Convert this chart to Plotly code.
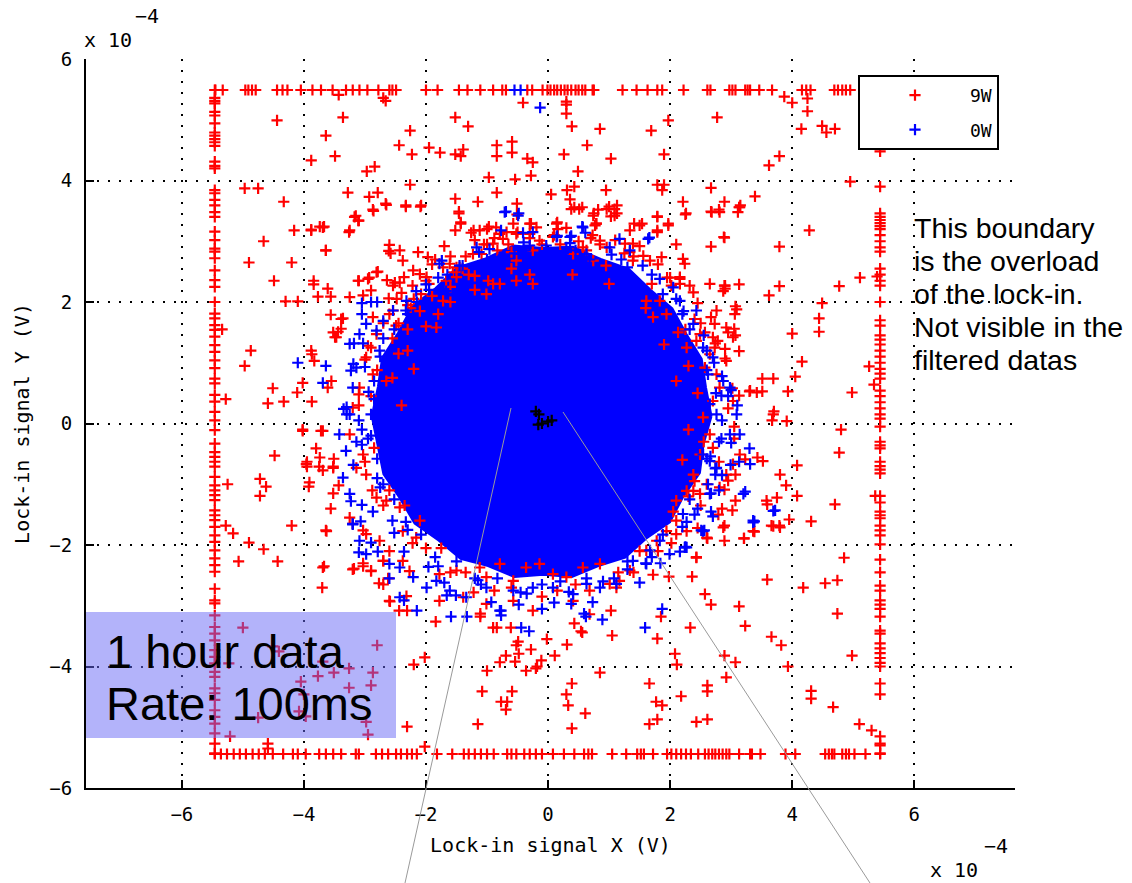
import plotly.graph_objects as go

# ---------------- data (units of 1e-4 V) ----------------
EDGE_TOP = 5.49
EDGE_BOTTOM = -5.44
EDGE_LEFT = -5.46
EDGE_RIGHT = 5.44

# 9W points sitting on the lock-in overload boundary
red_top_x = [-5.45, -5.33, -4.96, -4.91, -4.85, -4.79, -4.44, -4.35, -4.27, -4.05, -3.86, -3.72,
             -3.53, -3.31, -3.20, -3.09, -2.96, -2.78, -2.60, -2.55, -2.49, -2.00, -1.81, -1.46,
             -1.32, -1.11, -0.90, -0.75, -0.69, -0.34, -0.26, -0.09, -0.01, 0.04, 0.10, 0.15,
             0.21, 0.27, 0.32, 0.38, 0.45, 0.50, 0.56, 0.61, 0.73, 0.75, 1.22, 1.45, 1.63, 1.79,
             1.87, 2.22, 2.61, 2.66, 2.97, 3.02, 3.07, 3.23, 3.27, 3.31, 3.46, 3.67, 4.16, 4.23,
             4.30, 4.69, 4.75, 4.82, 4.88, 4.95]
red_bottom_x = [-5.46, -5.36, -5.26, -5.15, -5.05, -4.95, -4.84, -4.74, -4.64, -4.51, -4.34, -4.18,
                -4.10, -3.97, -3.75, -3.64, -3.52, -3.39, -3.15, -3.10, -2.82, -2.72, -2.62, -2.49,
                -2.41, -2.31, -2.23, -2.15, -1.82, -1.57, -1.38, -1.30, -1.20, -1.10, -1.00, -0.89,
                -0.67, -0.60, -0.52, -0.39, -0.30, -0.20, -0.10, 0.08, 0.26, 0.43, 0.59, 0.66, 0.72,
                1.05, 1.28, 1.46, 1.52, 1.57, 1.72, 1.95, 2.02, 2.10, 2.18, 2.26, 2.34, 2.46, 2.57,
                2.63, 2.69, 2.74, 2.80, 2.86, 2.92, 2.97, 3.13, 3.31, 3.34, 3.48, 3.89, 4.05, 4.54,
                4.60, 4.65, 4.69, 4.82, 4.88, 4.93, 5.02, 5.20, 5.44]
red_left_y = [5.49, 5.36, 5.31, 5.27, 5.13, 5.07, 4.94, 4.79, 4.74, 4.68, 4.63, 4.57, 4.31, 4.24,
              4.20, 3.84, 3.79, 3.68, 3.59, 3.48, 3.40, 3.16, 3.02, 2.88, 2.83, 2.72, 2.52, 2.36,
              2.25, 2.00, 1.81, 1.73, 1.62, 1.54, 1.43, 1.29, 1.18, 1.04, 0.91, 0.74, 0.66, 0.47,
              0.36, 0.19, 0.05, -0.11, -0.33, -0.47, -0.55, -0.63, -0.71, -0.88, -1.02, -1.10,
              -1.18, -1.26, -1.43, -1.51, -1.59, -1.70, -1.84, -1.95, -2.09, -2.22, -2.33, -2.44,
              -2.72, -2.91, -2.96, -3.16, -3.35, -3.46, -3.57, -3.73, -3.84, -3.95, -4.09, -4.17,
              -4.36, -4.44, -4.55, -4.72, -4.83, -4.94, -5.10, -5.27, -5.43]
red_right_y = [4.48, 3.90, 3.46, 3.40, 3.35, 3.30, 3.25, 3.20, 3.10, 3.00, 2.90, 2.83, 2.55, 2.45,
               2.35, 2.27, 2.00, 1.70, 1.61, 1.45, 1.38, 1.30, 1.20, 1.10, 1.00, 0.90, 0.82, 0.74,
               0.54, 0.45, 0.35, 0.25, 0.15, 0.08, -0.05, -0.30, -0.36, -0.41, -0.63, -0.70, -0.76,
               -0.82, -1.19, -1.30, -1.45, -1.51, -1.56, -1.68, -1.76, -1.84, -1.99, -2.24, -2.45,
               -2.67, -2.75, -2.91, -2.98, -3.05, -3.18, -3.41, -3.46, -3.62, -3.70, -3.78, -3.86,
               -3.94, -4.00, -4.28, -4.46, -5.15, -5.27, -5.30, -5.43]

# 9W scattered outliers (x, y)
red_outliers = [
    (-4.44, 4.99), (-3.36, 5.04), (-3.64, 4.74), (-3.49, 4.40), (-3.88, 4.33), (-2.97, 4.15),
    (-2.84, 4.23), (-4.97, 3.87), (-4.75, 3.87), (-4.33, 3.65), (-3.28, 3.80), (-2.93, 3.73),
    (-2.79, 3.80), (-2.66, 3.62), (-2.87, 3.52), (-3.15, 3.42), (-3.10, 3.34), (-3.88, 3.19),
    (-3.74, 3.24), (-3.67, 3.24), (-4.16, 3.18), (-3.25, 3.18), (-4.66, 3.00), (-3.64, 2.85),
    (-2.60, 2.94), (-2.58, 2.80), (-4.90, 2.65), (-4.20, 2.65), (-4.49, 2.35), (-3.84, 2.35),
    (-3.84, 2.29), (-3.10, 2.35), (-2.93, 2.40), (-2.79, 2.50), (-3.61, 2.22), (-2.90, 2.19),
    (-3.77, 2.09), (-3.56, 2.09), (-4.30, 2.01), (-4.10, 2.01), (-3.03, 2.11), (-2.61, 2.06),
    (-5.34, 1.55), (-4.87, 1.20), (-4.97, 0.95), (-4.51, 0.58), (-5.28, 0.40), (-4.59, 0.33),
    (-4.33, 0.36), (-4.11, 0.51), (-3.87, 1.14), (-4.02, 0.67), (-3.87, 0.36), (-3.56, 1.79),
    (-3.36, 1.73), (-3.39, 1.56), (-3.44, 1.51), (-3.49, 1.42), (-2.70, 5.36), (-2.66, 5.31),
    (-3.43, 5.41),
    (-0.41, 5.28), (0.30, 5.30), (0.30, 5.25), (0.30, 5.10), (-1.52, 5.04), (-1.31, 4.89),
    (-2.26, 4.82), (0.39, 4.89), (0.85, 4.85), (1.69, 4.82), (1.97, 4.99), (-2.44, 4.58),
    (-2.23, 4.43), (-1.95, 4.54), (-1.77, 4.46), (-1.52, 4.43), (-1.43, 4.40), (-1.39, 4.51),
    (-0.84, 4.58), (-0.84, 4.40), (-0.59, 4.64), (-0.59, 4.46), (-0.34, 4.36), (-0.25, 4.30),
    (-0.28, 4.08), (0.64, 4.58), (0.26, 4.43), (1.03, 4.36), (1.90, 4.43), (0.49, 4.15),
    (-0.97, 4.05), (-0.54, 4.02), (-2.26, 3.93), (-0.84, 3.80), (0.05, 3.77), (0.31, 3.84),
    (0.43, 3.90), (0.36, 3.69), (0.95, 3.84), (1.79, 3.93), (1.87, 3.84), (1.90, 3.93),
    (-1.52, 3.70), (-1.15, 3.65), (-0.51, 3.62), (-2.33, 3.59), (-2.08, 3.59), (-1.46, 3.49),
    (-1.43, 3.31), (0.43, 3.56), (0.56, 3.56), (0.75, 3.46), (0.82, 3.52), (1.00, 3.57),
    (1.13, 3.59), (1.13, 3.46), (1.03, 3.41), (1.79, 3.41), (2.21, 3.65), (2.26, 3.46),
    (-0.51, 3.44), (-0.28, 3.29), (0.15, 3.31), (0.79, 3.29), (1.41, 3.29), (1.54, 3.29),
    (1.97, 3.29), (-1.52, 3.18), (-1.26, 3.14), (-0.97, 3.24), (1.34, 3.18), (1.79, 3.18),
    (3.87, 5.38), (4.00, 5.28), (4.25, 5.35), (4.25, 5.14), (2.77, 5.04), (4.15, 4.85),
    (4.49, 4.90), (4.56, 4.79), (4.70, 4.85), (3.79, 4.40), (3.62, 4.25), (4.95, 3.98),
    (2.67, 3.88), (2.89, 3.65), (2.67, 3.49), (2.80, 3.52), (3.13, 3.56), (3.15, 3.59),
    (3.39, 3.74), (4.28, 3.18), (2.89, 3.06), (2.67, 2.91), (3.79, 2.91), (5.11, 2.40),
    (4.77, 2.26), (5.39, 2.42), (2.89, 2.27), (2.90, 2.22), (3.13, 2.29), (3.79, 2.26),
    (3.62, 2.11), (4.49, 1.98), (4.44, 1.73), (4.44, 1.51), (4.00, 1.48), (4.16, 1.02),
    (4.05, 0.77), (5.26, 0.94), (5.34, 0.64), (4.98, 0.51), (3.93, 0.53), (3.51, 0.74),
    (3.69, 0.74), (3.30, 0.53), (3.51, 0.53), (3.13, 1.19), (3.07, 1.45), (3.05, 1.56),
    (3.07, 1.93), (2.74, 1.32), (2.90, 1.23), (2.90, 1.07), (3.70, 0.20), (3.67, 0.05),
    (3.13, 0.46),
    (-4.48, -0.53), (-5.25, -1.00), (-4.72, -0.91), (-4.62, -1.04), (-4.72, -1.19),
    (-5.28, -1.68), (-5.16, -1.81), (-4.90, -1.96), (-4.66, -2.07), (-5.07, -2.27),
    (-4.43, -2.27), (-4.20, -1.68), (-5.00, -3.36), (-4.51, -3.67), (-4.41, -3.75),
    (-5.23, -3.95), (-5.21, -5.15), (-4.59, -5.27), (-4.59, -5.35), (-4.02, -0.10),
    (-3.69, -0.12), (-3.80, -0.41), (-3.95, -0.63), (-3.95, -0.71), (-3.75, -0.71),
    (-3.69, -0.77), (-3.52, -0.71), (-3.51, -0.58), (-3.92, -1.04), (-3.52, -1.15),
    (-3.56, -1.40), (-3.43, -1.02), (-3.64, -1.76), (-3.67, -2.35), (-3.70, -2.70),
    (-3.18, -2.39), (-3.03, -2.30), (-2.90, -2.42), (-2.70, -2.26), (-2.62, -2.55),
    (-2.77, -2.63), (-2.59, -2.93), (-3.20, -1.65), (-3.03, -1.76), (-2.80, -3.65),
    (-2.87, -4.10), (-2.90, -4.31), (-2.98, -4.91), (-2.95, -5.12), (-3.26, -4.03),
    (-3.26, -4.35), (-3.51, -4.10), (-3.77, -4.16), (-3.69, -3.92), (-4.05, -4.25),
    (-4.00, -4.46), (-3.97, -4.82), (-4.08, -4.74), (-4.75, -4.84),
    (-2.02, -3.85), (-2.20, -3.97), (-2.31, -3.08), (-2.44, -3.08), (-1.84, -3.26),
    (-1.00, -4.07), (-1.08, -4.41), (-0.77, -4.58), (-0.67, -4.58), (-0.69, -4.71),
    (-0.59, -4.41), (-1.15, -4.95), (-2.31, -4.99), (-2.02, -5.32), (0.39, -4.28),
    (0.30, -4.46), (0.33, -4.64), (0.61, -4.77), (0.39, -5.02), (0.85, -4.10), (1.66, -4.28),
    (1.77, -4.58), (1.87, -4.64), (1.66, -4.95), (1.79, -4.87), (2.18, -4.49), (2.43, -4.91),
    (2.08, -3.79), (2.11, -3.97), (1.79, -3.54), (2.33, -3.36), (1.05, -3.49), (0.31, -3.64),
    (0.11, -3.82), (-0.02, -3.55), (-0.11, -3.90), (-0.20, -4.03), (-0.18, -4.00),
    (-0.36, -4.07), (-0.54, -3.92), (-0.79, -3.93), (-0.69, -3.82), (-0.48, -3.79),
    (-0.28, -3.72), (-0.49, -3.59), (-0.52, -3.65), (-0.90, -3.36), (-0.84, -3.36),
    (-0.61, -3.36), (0.43, -3.29), (0.54, -3.42), (0.56, -3.44), (1.03, -3.08), (1.85, -3.18),
    (2.43, -2.21), (2.36, -2.52), (1.98, -2.52), (1.72, -2.49), (-1.11, -3.13), (-1.11, -3.18),
    (4.80, -0.10), (4.77, -0.48), (4.08, -0.69), (3.90, -1.02), (4.08, -1.19), (3.75, -1.22),
    (3.59, -1.33), (3.95, -1.58), (4.31, -1.61), (3.66, -1.68), (3.79, -1.68), (4.70, -1.33),
    (5.36, -1.19), (3.38, -1.78), (3.21, -1.89), (2.89, -1.93), (4.85, -2.21), (3.59, -2.57),
    (4.18, -2.70), (4.54, -2.63), (4.74, -2.58), (4.74, -3.13), (2.57, -2.81), (2.67, -2.98),
    (3.13, -3.01), (3.23, -3.33), (3.66, -3.51), (3.82, -3.65), (2.89, -3.82), (3.07, -3.93),
    (3.93, -4.00), (4.98, -3.82), (2.92, -4.18), (2.61, -4.31), (2.61, -4.41), (2.61, -4.87),
    (4.31, -4.40), (4.31, -4.53), (4.67, -4.67), (5.10, -4.95), (5.30, -5.05),
]

# 9W points in the fuzzy rim of the central cloud (x, y)
red_fringe = [
    (-3.17, 3.40), (-3.11, 3.34), (-2.86, 3.50), (-2.65, 3.60), (-2.33, 3.57), (-2.09, 3.57),
    (-1.46, 3.46), (-1.43, 3.29), (-1.22, 3.18), (-1.12, 3.18), (-1.00, 3.20), (-0.85, 3.23),
    (-0.79, 3.12), (-0.68, 3.15), (-0.57, 3.29), (-0.52, 3.12), (-0.30, 3.29), (-0.30, 3.12),
    (-0.19, 3.23), (0.14, 3.29), (0.16, 3.20), (0.38, 3.53), (0.51, 3.53), (0.74, 3.42),
    (0.77, 3.26), (0.79, 3.29), (0.96, 3.53), (1.09, 3.53), (1.09, 3.42), (1.50, 3.26),
    (1.79, 3.40), (1.97, 3.26), (1.79, 3.15), (2.25, 3.44), (2.68, 3.48), (2.81, 3.48),
    (2.88, 3.07), (3.14, 3.56), (3.11, 3.48), (2.10, 2.95), (1.86, 2.74), (1.67, 2.68),
    (1.56, 2.76), (1.39, 2.96), (1.34, 2.82), (2.21, 2.71), (2.24, 2.63), (2.16, 2.38),
    (2.16, 2.30), (2.38, 2.16), (2.32, 2.27), (2.65, 2.30), (2.90, 2.27), (2.87, 2.18),
    (3.09, 1.88), (3.06, 1.80), (2.76, 1.86), (2.73, 1.64), (2.92, 1.58), (2.95, 1.50),
    (3.03, 1.42), (2.70, 1.42), (2.73, 1.25), (2.65, 1.14), (2.92, 1.03), (2.76, 0.81),
    (2.57, 0.92), (2.49, 1.47), (2.57, 1.50), (2.43, 1.36), (2.27, 1.25), (2.13, 1.50),
    (1.94, 1.80), (1.83, 2.02), (1.61, 2.02), (1.72, 1.75),
    (-3.64, 2.85), (-3.88, 3.18), (-3.69, 3.23), (-3.26, 3.15), (-2.61, 2.84), (-2.43, 2.85),
    (-2.38, 2.68), (-2.13, 2.82), (-1.97, 2.74), (-2.81, 2.49), (-2.95, 2.38), (-3.11, 2.35),
    (-3.25, 2.08), (-3.39, 1.72), (-3.52, 1.50), (-3.47, 1.42), (-2.64, 2.36), (-2.51, 2.32),
    (-2.54, 2.27), (-2.43, 2.32), (-2.21, 2.52), (-2.10, 2.46), (-1.99, 2.41), (-1.72, 2.57),
    (-1.61, 2.63), (-1.56, 2.49), (-1.45, 2.57), (-1.23, 2.79), (-1.09, 2.79), (-0.90, 2.96),
    (-0.74, 3.04), (-0.60, 2.82), (-0.52, 2.68), (-0.25, 2.85), (-0.14, 3.01), (0.08, 3.07),
    (0.41, 2.79), (0.57, 2.90), (0.74, 2.68), (0.85, 3.01), (0.96, 2.90), (1.26, 2.96),
    (1.39, 2.68), (-1.67, 2.35), (-1.50, 2.41), (-1.20, 2.43), (-0.98, 2.35), (-0.79, 2.30),
    (-0.52, 2.35), (-0.25, 2.30), (-1.01, 2.13), (-1.80, 1.80), (-1.83, 1.58), (-1.72, 2.02),
    (-2.54, 1.86), (-2.49, 1.61), (-2.81, 1.47), (-2.98, 1.09), (-2.87, 0.81), (-2.65, 0.70),
    (-3.09, 0.59), (-3.20, 0.26), (-3.25, -0.18), (-3.03, -0.51), (-3.14, -0.73),
    (-2.98, -0.84), (-2.81, -1.22), (-2.65, -1.27), (-2.43, -1.38), (-3.25, -1.55),
    (-2.98, -1.82), (-2.76, -1.93), (-2.38, -1.77), (-2.16, -1.88), (-2.10, -1.60),
    (-3.88, 1.20), (-3.83, 1.03), (-3.55, 0.70), (-3.61, 0.59), (-3.72, -0.12), (-3.74, -0.56),
    (-3.96, -0.67), (-3.52, -0.73), (-3.91, -0.97), (-4.02, -0.12), (-3.63, -1.77),
    (-3.69, -2.37), (-3.20, -2.40), (-3.03, -2.35), (-2.90, -2.43), (-2.70, -2.26),
    (-2.60, -2.10), (-2.38, -2.26), (-2.27, -2.43), (-2.70, -2.65), (-2.60, -2.92),
    (-2.32, -2.84), (-1.78, -2.48), (-1.50, -2.42), (-1.12, -2.37), (-1.01, -2.53),
    (-0.79, -2.31), (-0.57, -2.59), (-0.36, -2.37), (-0.14, -2.31), (0.08, -2.48),
    (0.30, -2.53), (0.57, -2.37), (0.85, -2.31), (1.01, -2.64), (1.17, -2.59), (1.34, -2.42),
    (1.61, -2.09), (1.78, -1.93), (1.94, -1.77), (2.10, -1.82), (2.27, -1.77), (-1.78, -2.92),
    (-1.39, -2.86), (-1.01, -2.97), (-0.57, -2.92), (-0.25, -3.08), (0.41, -2.92),
    (0.68, -3.14), (2.10, -1.27), (2.27, -1.11), (2.38, -0.84), (2.49, -0.51), (2.65, -0.18),
    (2.54, 0.10), (2.70, 0.37), (2.81, 0.59), (3.03, 0.37), (3.31, 0.54), (3.42, 0.51),
    (3.69, 0.15), (3.91, 0.04), (3.52, -0.62), (3.80, -0.84), (3.58, -1.27), (3.69, -1.69),
    (3.80, -1.71), (3.36, -1.77), (2.87, -1.71), (2.60, -1.88), (2.43, -2.20), (2.38, -1.11),
    (2.10, -1.60), (2.49, -1.16), (2.81, -1.05), (2.92, -0.84), (3.03, -0.67), (3.14, -0.51),
    (3.43, -0.56), (3.23, -0.59), (3.07, -0.84), (2.95, -0.94), (2.89, -1.09), (3.07, -1.27),
    (3.02, -1.43), (2.85, -1.40), (2.79, -1.50), (2.89, -1.68), (2.61, -1.89), (3.21, -1.89),
    (-1.90, 2.10), (-1.60, 2.25), (-1.30, 2.45), (-2.10, 1.85), (-2.30, 1.55), (-2.45, 1.15),
    (-2.55, 0.75), (-2.20, 2.05), (-1.40, 2.55), (-0.60, 2.55), (2.30, 0.95), (2.45, 0.50),
    (2.55, -0.30), (2.40, -0.95), (2.05, -1.45), (1.50, -2.10), (-1.75, -2.05), (-2.35, -1.35),
    (2.95, 0.25), (3.05, -0.05), (2.50, 1.65), (2.67, 1.75), (2.40, 1.72), (2.02, 2.27),
    (1.95, 2.40), (2.16, 2.41), (1.40, 2.75), (1.50, 2.92), (1.25, 2.80), (0.63, 2.85),
    (0.73, 3.10), (0.50, 3.00), (0.85, 2.95), (-0.10, 2.95), (0.10, 3.10), (-0.30, 3.05),
    (0.20, 2.95), (-0.83, 2.85), (-0.88, 3.05), (-1.05, 2.95), (-0.65, 2.95), (-1.50, 2.57),
    (-1.60, 2.75), (-1.70, 2.92), (-1.35, 2.75), (-1.85, 2.70), (-2.08, 2.13), (-2.22, 2.27),
    (-2.36, 2.41), (-2.00, 2.35), (-2.40, 2.15), (-2.70, 1.65), (-2.87, 1.75), (-2.60, 1.80),
    (-2.45, 1.65), (-2.80, 0.88), (-3.00, 1.05), (-2.90, 1.25), (-3.10, 0.30), (-2.90, 0.45),
    (-3.00, -0.63), (-2.85, -0.40), (-2.70, -1.35), (-2.60, -1.10), (-2.22, -1.97),
    (-2.00, -2.05), (-1.60, -2.45), (-1.35, -2.45), (-0.88, -2.75), (-0.60, -2.70),
    (-0.10, -2.85), (0.15, -2.75), (0.68, -2.75), (0.45, -2.65), (1.40, -2.45), (1.15, -2.45),
    (2.02, -1.97), (1.80, -2.10), (2.50, -1.35), (2.60, -1.00), (2.80, -0.63), (2.70, -0.40),
    (3.02, 0.58), (2.78, 1.36), (2.45, 1.98), (1.80, 2.62), (1.10, 3.02), (0.30, 3.22),
    (-0.50, 3.15), (-1.20, 3.02), (-1.90, 2.62), (-2.48, 2.05), (-2.95, 1.28), (-3.10, 0.48),
    (-2.88, -1.10), (-1.22, -2.78), (1.12, -2.70), (2.45, -1.72), (3.05, -0.25), (-2.30, 1.95),
    (-1.00, 2.95), (0.70, 3.05), (2.00, 2.40),
    (-1.20, 2.20), (-0.90, 2.30), (-1.60, 2.00), (-2.00, 1.60), (-2.30, 1.20), (-0.30, 2.45),
    (0.40, 2.45), (-2.20, 0.90), (-2.40, 0.30), (2.30, -0.10), (2.20, -0.60), (2.10, 0.70),
    (1.90, 1.30), (1.60, 1.90), (1.00, 2.30), (2.30, -1.20), (-1.95, 2.30), (-2.25, 1.90),
    (-2.55, 1.40), (0.95, 2.60), (1.70, 2.30), (2.25, 1.55),
]

# 0W points outside the solid core (x, y)
blue_edge_x = [-0.55, -0.45]
blue_points = [
    (-0.13, 5.20), (-4.10, 1.00), (-3.64, 0.95), (-3.69, 0.67), (-3.05, 1.98), (-2.90, 2.00),
    (-2.80, 2.00), (-3.05, 1.80), (-3.18, 1.32), (-3.03, 1.32), (-3.23, 0.87), (-3.30, 0.27),
    (-3.35, 0.24), (-0.69, 3.49), (-0.48, 3.46), (0.56, 3.24), (0.61, 3.14), (1.66, 3.06),
    (-0.77, 3.18), (-0.41, 3.14), (0.15, 3.09), (0.38, 3.09), (-1.74, 2.68), (-3.10, -2.12),
    (-2.90, -1.96), (-2.79, -2.11), (-2.60, -2.55), (-3.20, -1.65), (-3.07, -1.61),
    (-3.23, -1.28), (-3.05, -1.34), (-1.59, -3.18), (-1.33, -3.18), (-0.77, -3.08),
    (-0.77, -3.16), (-0.44, -3.36), (-0.31, -3.42), (0.59, -3.13), (0.62, -3.18), (0.89, -3.23),
    (1.59, -3.36), (1.87, -3.05), (2.25, -2.03), (2.51, -1.76), (-2.43, -2.86), (-2.36, -2.91),
    (-2.15, -3.08), (-1.66, -2.83), (-1.51, -2.83), (3.30, -0.41), (3.31, -0.67), (3.13, -0.63),
    (2.74, -0.74), (2.74, -0.84), (2.67, -1.15), (3.23, -1.12), (3.72, -1.43), (3.38, -1.61),
    (2.70, -1.53), (2.56, -1.76), (2.66, -0.54), (3.36, -1.63), (2.24, -2.04),
    (-0.71, 3.48), (-0.49, 3.42), (0.57, 3.23), (0.36, 3.07), (0.14, 3.07), (-0.25, 3.15),
    (-1.17, 2.90), (-0.96, 2.87), (-0.74, 2.76), (-0.30, 2.93), (-0.03, 2.93), (0.30, 2.90),
    (0.63, 2.79), (1.01, 2.90), (1.17, 3.04), (1.34, 2.85), (1.64, 3.04), (-1.78, 2.63),
    (-1.45, 2.60), (-1.67, 2.18), (-2.00, 2.29), (-2.16, 2.18), (-2.32, 2.02), (-2.54, 1.86),
    (-2.70, 1.69), (-2.81, 1.53), (1.83, 2.38), (2.05, 2.24), (2.16, 2.02), (2.43, 1.86),
    (2.38, 1.64), (2.54, 1.25), (2.70, 1.09), (2.62, 0.81), (2.87, 0.70), (2.98, 0.59),
    (3.09, 0.15), (2.98, -0.18), (3.14, -0.18), (2.76, 0.15), (2.65, 0.32), (2.54, -0.51),
    (2.65, -0.62), (2.76, -0.73), (3.20, -1.16), (3.36, -1.60), (3.69, -1.44), (2.65, -1.16),
    (2.54, -1.77), (2.27, -2.04), (1.99, -2.15), (1.83, -1.93), (1.67, -2.09), (1.61, -2.31),
    (1.39, -2.26), (2.21, -1.49), (0.63, -2.64), (0.85, -2.70), (1.12, -2.64), (0.41, -2.81),
    (0.08, -2.70), (-0.25, -2.70), (-0.57, -2.75), (-0.79, -3.08), (-1.01, -2.70),
    (-1.34, -2.86), (-1.61, -2.75), (-1.83, -2.59), (-1.99, -2.70), (-2.21, -2.53),
    (-2.43, -2.37), (-2.60, -2.31), (-2.98, -2.15), (-3.09, -1.93), (-3.20, -1.66),
    (-3.25, -1.16), (-3.36, -0.89), (-3.31, -0.45), (-3.42, -0.18), (-3.25, 0.15),
    (-3.20, 0.59), (-3.14, 0.92), (-3.25, 1.31), (-3.09, 1.47), (-2.98, 1.64),
    (-2.85, 0.40), (-2.90, -0.20), (-2.80, -0.90), (-2.55, -1.60), (-1.20, -2.55),
    (0.20, -2.60), (1.30, -2.40), (2.45, -1.40), (2.80, -0.30), (2.75, 0.50), (2.20, 1.80),
    (1.20, 2.70), (0.10, 2.80), (-1.00, 2.70), (-2.30, 1.80), (-2.75, 1.10),
    (2.85, 0.05), (2.95, 0.45), (3.10, 0.30), (2.60, 0.88), (2.72, 1.00), (2.85, 0.78),
    (2.32, 1.55), (2.55, 1.45), (1.88, 2.13), (2.10, 2.05), (1.30, 2.57), (1.55, 2.60),
    (0.68, 2.70), (0.45, 2.85), (-0.05, 2.80), (0.25, 2.80), (-0.40, 2.85), (-0.80, 2.70),
    (-0.55, 2.80), (-1.40, 2.60), (-1.65, 2.45), (-2.15, 2.00), (-1.95, 2.20), (-2.52, 1.55),
    (-2.70, 1.40), (-3.00, 0.93), (-3.19, 0.98), (-2.85, 0.70), (-2.90, 0.15), (-3.10, 0.05),
    (-3.30, 0.15), (-3.05, -0.10), (-2.80, -0.58), (-3.19, -0.68), (-3.05, -0.35),
    (-2.52, -1.25), (-2.87, -1.45), (-2.75, -1.05), (-2.08, -1.83), (-2.36, -2.11),
    (-2.30, -1.75), (-1.50, -2.27), (-1.70, -2.62), (-1.80, -2.35), (-0.83, -2.55),
    (-0.93, -2.94), (-1.10, -2.65), (-0.10, -2.65), (-0.10, -3.05), (-0.35, -2.80),
    (0.10, -2.95), (0.63, -2.55), (0.73, -2.94), (0.90, -2.60), (1.30, -2.27), (1.50, -2.62),
    (1.60, -2.30), (1.88, -1.83), (2.16, -2.11), (2.20, -1.70), (2.32, -1.25), (2.67, -1.45),
    (2.40, -1.50), (2.60, -0.58), (2.99, -0.68), (2.85, -0.85),
    (2.84, 0.46), (2.60, 1.20), (2.22, 1.85), (1.70, 2.45), (1.04, 2.78), (0.36, 2.97),
    (-0.40, 2.98), (-1.13, 2.82), (-1.80, 2.40), (-2.33, 1.86), (-2.76, 1.20), (-2.94, 0.52),
    (-2.95, -0.25), (-3.14, -0.30), (-2.70, -1.00), (-2.52, -1.80), (-2.33, -1.62),
    (-1.85, -2.20), (-1.96, -2.36), (-1.15, -2.58), (-0.45, -2.78), (-0.48, -2.98),
    (0.34, -2.77), (0.38, -2.97), (1.08, -2.55), (1.84, -2.30), (1.70, -2.20), (2.27, -1.62),
    (2.62, -1.00), (2.80, -1.10), (2.84, -0.25), (3.00, -0.32), (3.00, 0.55),
]

# outline of the saturated core of the cloud (x, y)
core_outline = [
    (2.67, 0.12), (2.58, 0.59), (2.51, 1.06), (2.26, 1.47), (2.03, 1.89), (1.67, 2.20),
    (1.32, 2.54), (0.86, 2.70), (0.41, 2.90), (-0.08, 2.88), (-0.57, 2.92), (-1.02, 2.71),
    (-1.49, 2.56), (-1.84, 2.22), (-2.22, 1.92), (-2.45, 1.49), (-2.71, 1.08), (-2.78, 0.60),
    (-2.88, 0.12), (-2.78, -0.36), (-2.69, -0.83), (-2.42, -1.23), (-2.18, -1.64),
    (-1.79, -1.92), (-1.43, -2.22), (-0.98, -2.34), (-0.55, -2.52), (-0.08, -2.48),
    (0.39, -2.52), (0.82, -2.34), (1.26, -2.20), (1.60, -1.89), (1.99, -1.62), (2.21, -1.20),
    (2.48, -0.81), (2.54, -0.34),
]

# black points at the centre
center_pts = [(-0.20, 0.20), (-0.15, 0.15), (0.00, 0.03), (0.06, 0.05), (-0.16, -0.02),
              (-0.10, 0.00)]

series_names = ["9W", "0W"]
x_ticks = [-6, -4, -2, 0, 2, 4, 6]
y_ticks = [-6, -4, -2, 0, 2, 4, 6]

# ---------------- build traces ----------------
red_x = (red_top_x + red_bottom_x + [EDGE_LEFT] * len(red_left_y) + [EDGE_RIGHT] * len(red_right_y)
         + [p[0] for p in red_outliers] + [p[0] for p in red_fringe])
red_y = ([EDGE_TOP] * len(red_top_x) + [EDGE_BOTTOM] * len(red_bottom_x) + red_left_y + red_right_y
         + [p[1] for p in red_outliers] + [p[1] for p in red_fringe])
blue_x = blue_edge_x + [p[0] for p in blue_points]
blue_y = [EDGE_TOP] * len(blue_edge_x) + [p[1] for p in blue_points]

RED = "#ff0000"
BLUE = "#0000ff"
MONO = "DejaVu Sans Mono"


def plus(color):
    return dict(symbol="cross-thin", size=8, color=color, line=dict(width=2.2, color=color))


fig = go.Figure()
fig.add_trace(go.Scatter(
    x=[p[0] for p in core_outline] + [core_outline[0][0]],
    y=[p[1] for p in core_outline] + [core_outline[0][1]],
    mode="lines", fill="toself", fillcolor=BLUE, line=dict(color=BLUE, width=3),
    showlegend=False, hoverinfo="skip"))
fig.add_trace(go.Scatter(x=red_x, y=red_y, mode="markers", name=series_names[0],
                         legendgroup="a", marker=plus(RED)))
fig.add_trace(go.Scatter(x=blue_x, y=blue_y, mode="markers", name=series_names[1],
                         legendgroup="b", marker=plus(BLUE)))
fig.add_trace(go.Scatter(x=[p[0] for p in center_pts], y=[p[1] for p in center_pts],
                         mode="markers", showlegend=False, marker=plus("#000000")))

# plot area in pixels: x 86..1015, y 59..788
L, R, T, B = 86, 1015, 59, 788
W, H = 1132, 883


def px(x):
    return (x - L) / (R - L)


def py(y):
    return (B - y) / (B - T)


axis_common = dict(
    showline=True, linecolor="black", linewidth=2, mirror=False,
    ticks="inside", ticklen=8, tickwidth=2, tickcolor="black",
    showgrid=True, gridcolor="black", gridwidth=1.5, griddash="2px,9px",
    zeroline=False, tickfont=dict(family=MONO, size=19, color="black"),
    ticklabelstandoff=8,
)

fig.update_layout(
    width=W, height=H,
    margin=dict(l=L, r=W - R, t=T, b=H - B, pad=0),
    paper_bgcolor="white", plot_bgcolor="white",
    xaxis=dict(range=[-7.57, 7.65], tickvals=x_ticks, **axis_common,
               title=dict(text="Lock-in signal X (V)", font=dict(family=MONO, size=20, color="black"),
                          standoff=14)),
    yaxis=dict(range=[-6, 6], tickvals=y_ticks, **axis_common,
               title=dict(text="Lock-in signal Y (V)", font=dict(family=MONO, size=20, color="black"),
                          standoff=14)),
    legend=dict(x=px(858), y=py(75), xanchor="left", yanchor="top",
                bgcolor="white", bordercolor="black", borderwidth=2,
                font=dict(family=MONO, size=18, color="black"), itemwidth=100,
                tracegroupgap=8),
    shapes=[
        dict(type="line", xref="paper", yref="paper", x0=px(511), y0=py(408), x1=px(405), y1=py(883),
             line=dict(color="#9a9a9a", width=1), layer="above"),
        dict(type="line", xref="paper", yref="paper", x0=px(563), y0=py(412), x1=px(870), y1=py(883),
             line=dict(color="#9a9a9a", width=1), layer="above"),
        dict(type="rect", xref="paper", yref="paper", x0=px(86), y0=py(738), x1=px(396), y1=py(612),
             fillcolor="rgba(103,103,245,0.5)", line=dict(width=0), layer="above"),
    ],
    annotations=[
        dict(text="x 10", xref="paper", yref="paper", x=px(82), y=py(40), xanchor="left",
             yanchor="middle", showarrow=False, font=dict(family=MONO, size=20, color="black")),
        dict(text="−4", xref="paper", yref="paper", x=px(133), y=py(16), xanchor="left",
             yanchor="middle", showarrow=False, font=dict(family=MONO, size=20, color="black")),
        dict(text="−4", xref="paper", yref="paper", x=px(982), y=py(846), xanchor="left",
             yanchor="middle", showarrow=False, font=dict(family=MONO, size=20, color="black")),
        dict(text="x 10", xref="paper", yref="paper", x=px(928), y=py(870), xanchor="left",
             yanchor="middle", showarrow=False, font=dict(family=MONO, size=20, color="black")),
        dict(text="1 hour data", xref="paper", yref="paper", x=px(104), y=py(651), xanchor="left",
             yanchor="middle", showarrow=False,
             font=dict(family="Liberation Sans", size=47, color="black")),
        dict(text="Rate: 100ms", xref="paper", yref="paper", x=px(104), y=py(703), xanchor="left",
             yanchor="middle", showarrow=False,
             font=dict(family="Liberation Sans", size=47, color="black")),
    ],
)

note_lines = ["This boundary", "is the overload", "of the lock-in.", "Not visible in the",
              "filtered datas"]
for i, line in enumerate(note_lines):
    fig.add_annotation(text=line, xref="paper", yref="paper", x=px(912), y=py(228 + 33 * i),
                       xanchor="left", yanchor="middle", showarrow=False,
                       font=dict(family="Liberation Sans", size=28.5, color="black"))

fig.write_html("out.html")
